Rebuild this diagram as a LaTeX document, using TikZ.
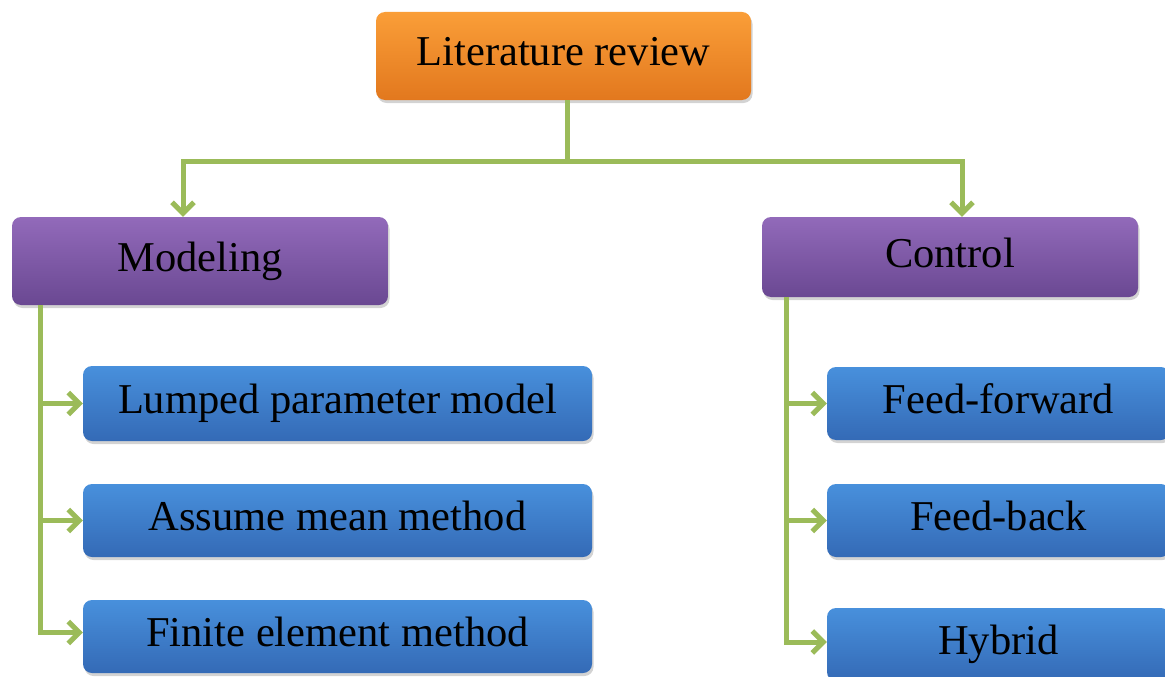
\documentclass[tikz,border=0pt]{standalone}
\usepackage{fontspec}
\setmainfont{Liberation Serif}
\usetikzlibrary{arrows.meta,shadows,calc}
\definecolor{conn}{HTML}{9BBB59}
\definecolor{orT}{RGB}{250,158,56}
\definecolor{orB}{RGB}{226,120,30}
\definecolor{puT}{RGB}{146,106,186}
\definecolor{puB}{RGB}{106,72,146}
\definecolor{blT}{RGB}{72,144,220}
\definecolor{blB}{RGB}{52,106,182}
\begin{document}
\begin{tikzpicture}[x=1pt,y=-1pt,
  box/.style={rounded corners=9pt, inner sep=0pt, align=center,
    font=\fontsize{42.5}{50}\selectfont, text height=30pt, text depth=10pt,
    drop shadow={opacity=.35, shadow xshift=1.5pt, shadow yshift=-3pt}},
  orangebox/.style={box, top color=orT, bottom color=orB},
  purplebox/.style={box, top color=puT, bottom color=puB},
  bluebox/.style={box, top color=blT, bottom color=blB},
  link/.style={draw=conn, line width=5pt},
  arr/.style={link, -{Straight Barb[length=11pt,width=22pt]}}
]
\useasboundingbox (0,0) rectangle (1165,677);

\node[orangebox, minimum width=375pt, minimum height=88pt] (lit) at (563.5,56) {Literature review};
\node[purplebox, minimum width=376pt, minimum height=88pt] (mod) at (200,261) {Modeling};
\node[purplebox, minimum width=376pt, minimum height=80pt] (ctl) at (950,257) {Control};

\node[bluebox, minimum width=509pt, minimum height=75pt] (lump) at (337.5,403.5) {Lumped parameter model};
\node[bluebox, minimum width=509pt, minimum height=73pt] (assume) at (337.5,520.5) {Assume mean method};
\node[bluebox, minimum width=509pt, minimum height=73pt] (fem) at (337.5,636.5) {Finite element method};

\node[bluebox, minimum width=343pt, minimum height=73pt] (ff) at (998.5,403.5) {Feed-forward};
\node[bluebox, minimum width=343pt, minimum height=73pt] (fb) at (998.5,520.5) {Feed-back};
\node[bluebox, minimum width=343pt, minimum height=73pt] (hyb) at (998.5,644.5) {Hybrid};

% top connectors
\coordinate (hub) at (567,161);
\draw[link] (lit.south -| hub) -- (hub);
\draw[arr] (hub) -| ([xshift=-17pt]mod.north);
\draw[arr] (hub) -| ([xshift=12pt]ctl.north);

% left branch
\coordinate (ls) at ($(mod.south west)+(29,0)$);
\draw[arr] (ls) |- (lump.west);
\draw[arr] (ls) |- (assume.west);
\draw[arr] (ls) |- ([yshift=4pt]fem.west);

% right branch
\coordinate (rs) at ($(ctl.south west)+(25,0)$);
\draw[arr] (rs) |- (ff.west);
\draw[arr] (rs) |- (fb.west);
\draw[arr] (rs) |- ([yshift=2.5pt]hyb.west);
\end{tikzpicture}
\end{document}
